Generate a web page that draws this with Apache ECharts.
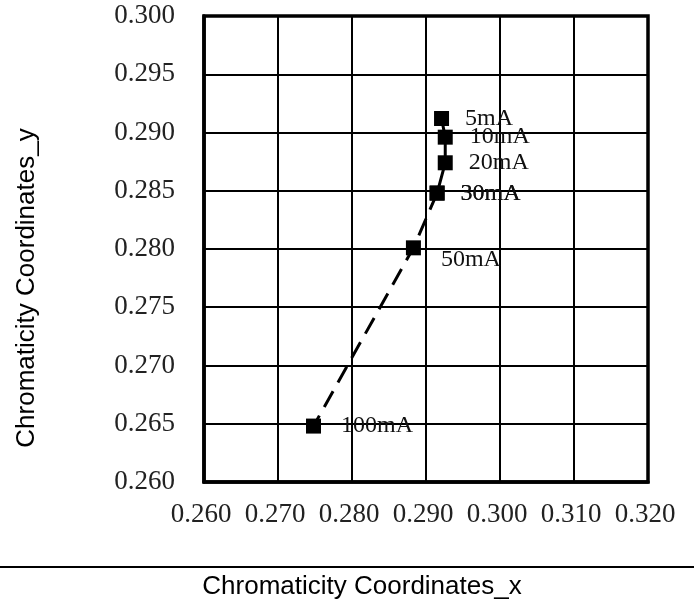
<!DOCTYPE html>
<html>
<head>
<meta charset="utf-8">
<script src="https://cdn.jsdelivr.net/npm/echarts@6/dist/echarts.min.js"></script>
<style>
html,body{margin:0;padding:0;background:#fff;}
#chart{width:694px;height:605px;}
</style>
</head>
<body>
<div id="chart"></div>
<script>
// Data
const currents = ['5mA', '10mA', '20mA', '30mA', '50mA', '100mA'];
const cx = [0.2921, 0.2926, 0.2926, 0.2915, 0.2883, 0.2748];
const cy = [0.2912, 0.2896, 0.2874, 0.2848, 0.2801, 0.2648];
const solidIdx = [0, 1, 2, 3];
const dashedIdx = [3, 4, 5];
const xTicks = {min: 0.26, max: 0.32, step: 0.01};
const yTicks = {min: 0.26, max: 0.30, step: 0.005};
const xTitle = 'Chromaticity Coordinates_x';
const yTitle = 'Chromaticity Coordinates_y';

// label placement (style only)
const labelDist = [16, 17, 16, 16, 20, 20];
const labelDy = [0, 0, 0, 1, 12, 0];

const chart = echarts.init(document.getElementById('chart'));
const labelFont = {fontFamily: 'Liberation Serif', fontSize: 24, color: '#111'};

function pts(idx, withLabels) {
  return idx.map(i => {
    const d = {value: [cx[i], cy[i]]};
    if (withLabels) {
      d.label = {show: true, position: 'right', distance: labelDist[i], offset: [0, labelDy[i]],
        formatter: currents[i], ...labelFont};
    } else {
      d.label = {show: false};
    }
    return d;
  });
}

chart.setOption({
  animation: false,
  backgroundColor: '#fff',
  grid: {left: 204, top: 16, right: 46, bottom: 123, show: true, borderColor: '#000', borderWidth: 3.5},
  xAxis: {
    type: 'value', min: xTicks.min, max: xTicks.max, interval: xTicks.step,
    axisLine: {show: true, lineStyle: {color: '#000', width: 3.5}},
    axisTick: {show: false},
    splitLine: {show: true, lineStyle: {color: '#000', width: 2}},
    axisLabel: {fontFamily: 'Liberation Serif', fontSize: 27, color: '#222', margin: 19,
      padding: [0, 6, 0, 0], formatter: v => v.toFixed(3)}
  },
  yAxis: {
    type: 'value', min: yTicks.min, max: yTicks.max, interval: yTicks.step,
    axisLine: {show: true, lineStyle: {color: '#000', width: 3.5}},
    axisTick: {show: false},
    splitLine: {show: true, lineStyle: {color: '#000', width: 2}},
    axisLabel: {fontFamily: 'Liberation Serif', fontSize: 27, color: '#222', margin: 29,
      formatter: v => v.toFixed(3)}
  },
  graphic: [
    {type: 'line', shape: {x1: 0, y1: 567, x2: 694, y2: 567},
     style: {stroke: '#000', lineWidth: 2}},
    {type: 'text', x: 362, y: 587,
     style: {text: xTitle, fontFamily: 'Liberation Sans', fontSize: 26, fill: '#000',
       textAlign: 'center', textVerticalAlign: 'middle'}},
    {type: 'text', x: 27, y: 288, rotation: Math.PI / 2,
     style: {text: yTitle, fontFamily: 'Liberation Sans', fontSize: 26, fill: '#000',
       textAlign: 'center', textVerticalAlign: 'middle'}}
  ],
  series: [
    {
      type: 'line', data: pts(dashedIdx, true),
      lineStyle: {color: '#000', width: 3, type: [18, 10]},
      symbol: 'rect', symbolSize: 15, itemStyle: {color: '#000'}, z: 3
    },
    {
      type: 'line', data: pts(solidIdx, true),
      lineStyle: {color: '#000', width: 3, type: 'solid'},
      symbol: 'rect', symbolSize: 15, itemStyle: {color: '#000'}, z: 4
    }
  ]
});
</script>
</body>
</html>
